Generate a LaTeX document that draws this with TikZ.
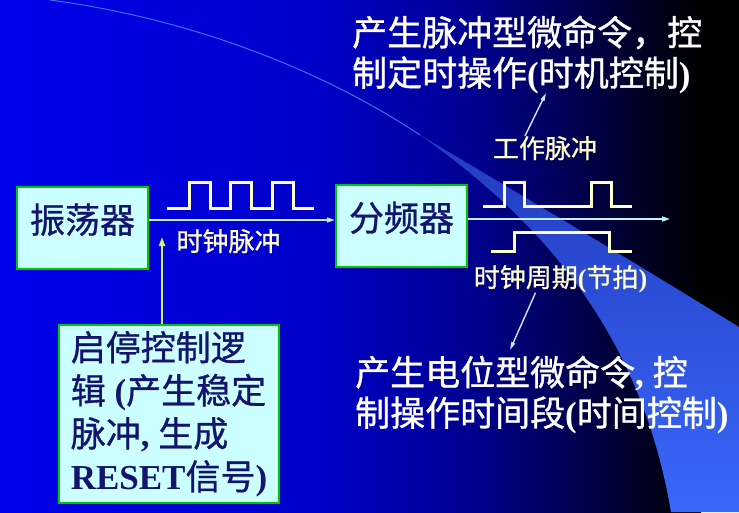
\documentclass[tikz,border=0pt]{standalone}
\usepackage{fontspec}
\setmainfont{Liberation Serif}
\newfontfamily\cjk{Noto Sans CJK SC}[FakeBold=0.9]
\newcommand{\zh}[1]{{\cjk\mdseries #1}}
\usetikzlibrary{arrows.meta,positioning}

\begin{document}
\begin{tikzpicture}[
    x=1pt,
    y=-1pt,
    >=Latex,
    block/.style={
        draw=boxgreen,
        fill=boxfill,
        line width=2.4pt,
        text=boxtext,
        inner sep=0pt,
        font=\bfseries\fontsize{35}{41}\selectfont
    },
    unit/.style={block, minimum width=131, minimum height=82, text height=30pt, text depth=20pt},
    wave/.style={draw=wavecream, line width=3pt},
    link/.style={draw=linkcyan, line width=1.6pt, -{Triangle[length=8pt,width=5pt]}},
    feed/.style={draw=feedgreen, line width=2pt, -{Triangle[length=9pt,width=6pt]}},
    pointer/.style={draw=linkcyan, line width=1.4pt, -{Triangle[length=8pt,width=4pt]}},
    tag/.style={text=wavecream, inner sep=0pt, anchor=base, font=\bfseries\fontsize{26}{30}\selectfont},
    note/.style={text=white, inner sep=0pt, anchor=base west, align=left,
        font=\bfseries\fontsize{35}{40.5}\selectfont}
]

\definecolor{bgA}{RGB}{0,0,236}
\definecolor{bgB}{RGB}{0,0,200}
\definecolor{bgC}{RGB}{0,0,140}
\definecolor{bgD}{RGB}{0,0,50}
\definecolor{swooshtop}{RGB}{34,58,190}
\definecolor{swooshblue}{RGB}{58,104,250}
\definecolor{swooshline}{RGB}{62,112,236}
\definecolor{boxgreen}{RGB}{0,200,0}
\definecolor{boxfill}{RGB}{204,255,255}
\definecolor{boxtext}{RGB}{20,20,110}
\definecolor{wavecream}{RGB}{255,255,204}
\definecolor{linkcyan}{RGB}{190,240,255}
\definecolor{feedgreen}{RGB}{210,240,120}

\useasboundingbox (0,0) rectangle (739,512);

% Background: blue fading to black on the right.
\shade[left color=bgA, right color=bgB] (0,0) rectangle (321,512);
\shade[left color=bgB, right color=bgC] (320,0) rectangle (481,512);
\shade[left color=bgC, right color=bgD] (480,0) rectangle (621,512);
\shade[left color=bgD, right color=black] (620,0) rectangle (701,512);
\fill[black] (700,0) rectangle (739,512);

% Light swoosh sweeping down to the lower right.
\shade[top color=swooshtop, bottom color=swooshblue]
    (420,135) .. controls (550,212) and (650,272) .. (739,327)
    -- (739,512) -- (671,512)
    .. controls (640,330) and (540,220) .. (420,135) -- cycle;
\draw[swooshline, line width=1pt]
    (50,0) .. controls (200,20) and (330,75) .. (420,135);

% Blocks.
\node[unit] (osc) at (82.5,228) {\zh{振荡器}};
\node[unit] (div) at (401.5,226) {\zh{分频器}};
\node[block, minimum width=220, minimum height=178, align=left,
      font=\bfseries\fontsize{35}{43}\selectfont] (ctrl) at (169,414)
    {\zh{启停控制逻}\\\zh{辑} (\zh{产生稳定}\\\zh{脉冲}, \zh{生成}\\\textbf{RESET}\zh{信号})};

% Clock pulses out of the oscillator.
\draw[wave] (167,208)
    foreach \t in {189,230,272} { -- (\t,208) -- (\t,182) -- (\t+21,182) -- (\t+21,208) }
    -- (314,208);

% Working pulses and machine cycle after the divider.
\draw[wave] (483,206) -- (504,206) -- (504,182) -- (524,182) -- (524,206)
    -- (591,206) -- (591,182) -- (611,182) -- (611,206) -- (632,206);
\draw[wave] (491,251) -- (514,251) -- (514,232) -- (609,232) -- (609,251) -- (632,251);

% Labels.
\node[tag] (clocktag) at (228.5,251) {\zh{时钟脉冲}};
\node[tag] (worktag) at (545,158) {\zh{工作脉冲}};
\node[tag] (periodtag) at (560.5,287) {\zh{时钟周期}(\zh{节拍})};

% Base anchor sits on the last line here.
\node[note] (pulsenote) at (352,86)
    {\zh{产生脉冲型微命令，控}\\\zh{制定时操作}(\zh{时机控制})};
\node[note] (levelnote) at (355,426)
    {\zh{产生电位型微命令}, \zh{控}\\\zh{制操作时间段}(\zh{时间控制})};

% Connectors.
\coordinate (outend) at (670,219);
\coordinate (feedtip) at (162,237);
\coordinate (worktip) at (546,93);
\coordinate (periodtip) at (510,350);

\draw[link] ([yshift=8pt]osc.east) -- ([yshift=6pt]div.west);
\draw[link] ([yshift=7pt]div.east) -- (outend);
\draw[feed] (feedtip |- ctrl.north) -- (feedtip);
\draw[pointer] ([xshift=-20pt]worktag.north) -- (worktip);
\draw[pointer] ([xshift=-25pt]periodtag.south) -- (periodtip);

\end{tikzpicture}
\end{document}
